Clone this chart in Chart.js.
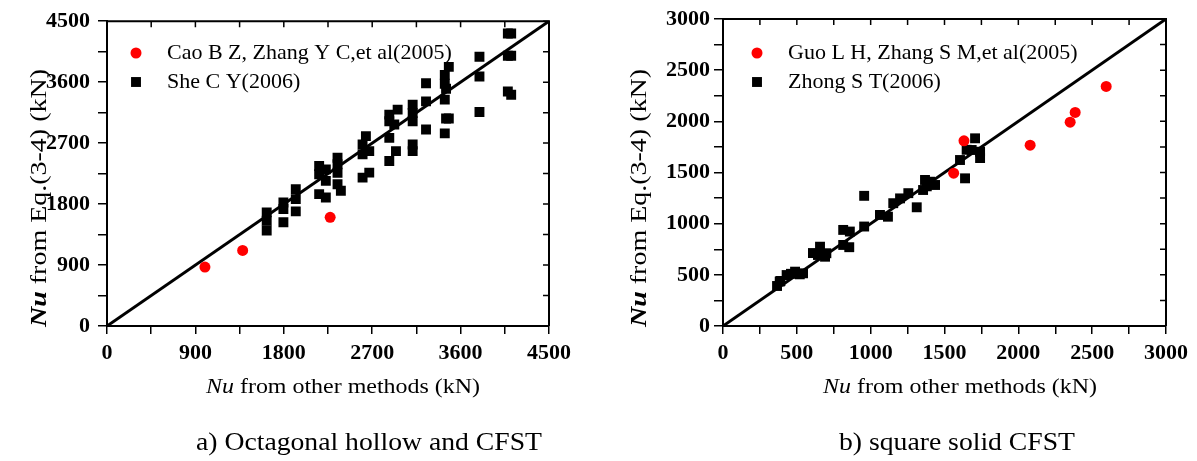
<!DOCTYPE html>
<html>
<head>
<meta charset="utf-8">
<script src="https://cdn.jsdelivr.net/npm/chart.js@4.4.0/dist/chart.umd.min.js"></script>
<style>
  html, body { margin: 0; padding: 0; background: #fff; }
  body { width: 1197px; height: 461px; position: relative; overflow: hidden; }
  canvas { position: absolute; top: 0; }
  #left { left: 0; }
  #right { left: 600px; }
</style>
</head>
<body>
<canvas id="left" width="600" height="461"></canvas>
<canvas id="right" width="597" height="461"></canvas>
<script>
// a) Octagonal hollow and CFST
const leftCaoX = [997, 1381, 2272];
const leftCaoY = [870, 1115, 1604];
const leftSheX = [1626, 1626, 1626, 1796, 1796, 1796, 1922, 1922, 1922,
  2160, 2160, 2160, 2228, 2228, 2228, 2347, 2347, 2347, 2347, 2381,
  2602, 2636, 2602, 2670, 2602, 2670, 2874, 2874, 2874, 2874, 2942, 2959, 2925,
  3112, 3112, 3112, 3112, 3112, 3248, 3248, 3248,
  3480, 3439, 3439, 3452, 3439, 3452, 3439, 3480,
  3792, 3792, 3792, 4081, 4115, 4081, 4115, 4081, 4115];
const leftSheY = [1678, 1553, 1409, 1824, 1727, 1531, 2020, 1873, 1692,
  2362, 2240, 1947, 2313, 2142, 1898, 2485, 2387, 2262, 2093, 1996,
  2680, 2803, 2534, 2582, 2191, 2264, 3120, 3023, 2778, 2436, 2582, 3194, 2974,
  3267, 3145, 3023, 2582, 2680, 3585, 3316, 2900,
  3826, 3708, 3576, 3503, 3342, 3063, 2844, 3063,
  3976, 3683, 3160, 4319, 4319, 3991, 3991, 3463, 3414];
const leftTicks = { max: 4500, step: 450, labelEvery: 900 };

// b) square solid CFST
const rightGuoX = [1562, 1632, 2080, 2351, 2385, 2595];
const rightGuoY = [1493, 1810, 1767, 1992, 2087, 2341];
const rightZhongX = [366, 384, 389, 431, 460, 488, 520, 542,
  609, 643, 657, 691, 700, 814, 859, 814, 855,
  956, 956, 1063, 1117, 1153, 1199, 1255, 1312,
  1355, 1368, 1402, 1436, 1380,
  1605, 1639, 1650, 1684, 1707, 1741, 1741];
const rightZhongY = [391, 434, 440, 498, 510, 531, 505, 515,
  713, 694, 775, 677, 711, 939, 923, 792, 770,
  972, 1272, 1085, 1068, 1200, 1247, 1298, 1160,
  1329, 1427, 1410, 1378, 1365,
  1622, 1443, 1722, 1720, 1834, 1703, 1641];
const rightTicks = { max: 3000, step: 250, labelEvery: 500 };

const SERIF = "'Liberation Serif', 'Times New Roman', serif";

function toPoints(xs, ys) {
  return xs.map((x, i) => ({ x: x, y: ys[i] }));
}

/**
 * Draws a line of text made of parts with different fonts, centred on (cx, cy).
 * If width is given the line is stretched to that width.
 */
function drawRich(ctx, parts, cx, cy, width) {
  let total = 0;
  parts.forEach(p => { ctx.font = p.font; total += ctx.measureText(p.text).width; });
  ctx.save();
  ctx.translate(cx, cy);
  if (width) ctx.scale(width / total, 1);
  let x = -total / 2;
  ctx.textAlign = 'left';
  ctx.textBaseline = 'middle';
  parts.forEach(p => {
    ctx.font = p.font;
    ctx.fillText(p.text, x, 0);
    x += ctx.measureText(p.text).width;
  });
  ctx.restore();
}

// frame, mirrored inward ticks, legend, axis titles and caption
const decor = {
  id: 'decor',
  afterDraw(chart, args, opts) {
    const { ctx, chartArea: a, scales: { x, y } } = chart;
    ctx.save();
    ctx.strokeStyle = '#000';
    ctx.fillStyle = '#000';

    ctx.lineWidth = 2;
    ctx.beginPath();
    ctx.moveTo(a.left, a.top);
    ctx.lineTo(a.right, a.top);
    ctx.lineTo(a.right, a.bottom);
    ctx.stroke();

    ctx.lineWidth = 1.5;
    ctx.beginPath();
    x.ticks.forEach(t => {
      const px = x.getPixelForValue(t.value);
      ctx.moveTo(px, a.top);
      ctx.lineTo(px, a.top + 6);
    });
    y.ticks.forEach(t => {
      const py = y.getPixelForValue(t.value);
      ctx.moveTo(a.right, py);
      ctx.lineTo(a.right - 6, py);
    });
    ctx.stroke();

    // legend
    let ly = opts.legendY;
    chart.data.datasets.filter(d => d.label).forEach(d => {
      ctx.fillStyle = d.backgroundColor;
      Chart.helpers.drawPoint(ctx, { pointStyle: d.pointStyle, radius: d.pointRadius, rotation: 0, borderWidth: 0 },
        a.left + opts.legendMarkX, ly);
      ctx.fillStyle = '#000';
      ctx.font = '22px ' + SERIF;
      ctx.textAlign = 'left';
      ctx.textBaseline = 'middle';
      ctx.fillText(d.label, a.left + opts.legendTextX, ly);
      ly += 29;
    });

    // axis titles
    ctx.fillStyle = '#000';
    drawRich(ctx, [
      { text: 'Nu', font: 'italic 22px ' + SERIF },
      { text: ' from other methods (kN)', font: '22px ' + SERIF }
    ], opts.xTitleX, opts.xTitleY, 274);

    ctx.save();
    ctx.translate(opts.yTitleX, opts.yTitleY);
    ctx.rotate(-Math.PI / 2);
    drawRich(ctx, [
      { text: 'Nu', font: 'italic bold 23px ' + SERIF },
      { text: ' from Eq.(3-4) (kN)', font: '23px ' + SERIF }
    ], 0, 0, 258);
    ctx.restore();

    drawRich(ctx, [{ text: opts.caption, font: '25px ' + SERIF }], opts.captionX, opts.captionY, opts.captionW);
    ctx.restore();
  }
};

function axis(t, fitSize, isX, pad) {
  return {
    type: 'linear',
    min: 0,
    max: t.max,
    afterFit: s => { if (isX) s.height = fitSize; else s.width = fitSize; },
    ticks: {
      stepSize: t.step,
      autoSkip: false,
      maxRotation: 0,
      color: '#000',
      padding: pad,
      font: { family: SERIF, size: 22, weight: 'bold' },
      callback: v => (v % t.labelEvery === 0 ? String(v) : '')
    },
    grid: { drawOnChartArea: false, drawTicks: true, tickLength: isX ? 8 : 9, color: '#000', lineWidth: 1.5 },
    border: { display: true, color: '#000', width: 2 }
  };
}

function makeChart(id, cfg) {
  return new Chart(document.getElementById(id), {
    type: 'scatter',
    data: {
      datasets: [
        {
          label: cfg.redLabel,
          data: toPoints(cfg.redX, cfg.redY),
          pointStyle: 'circle',
          pointRadius: 5.5,
          backgroundColor: '#ff0000',
          borderWidth: 0,
          order: 1
        },
        {
          label: cfg.blackLabel,
          data: toPoints(cfg.blackX, cfg.blackY),
          pointStyle: 'rect',
          pointRadius: 7,
          backgroundColor: '#000',
          borderWidth: 0,
          order: 2
        },
        {
          type: 'line',
          data: [{ x: 0, y: 0 }, { x: cfg.ticks.max, y: cfg.ticks.max }],
          borderColor: '#000',
          borderWidth: 3,
          pointRadius: 0,
          showLine: true,
          order: 3
        }
      ]
    },
    options: {
      responsive: false,
      animation: false,
      devicePixelRatio: 1,
      layout: { padding: { left: 0, top: cfg.top, right: cfg.padRight, bottom: 0 } },
      scales: {
        x: axis(cfg.ticks, 461 - cfg.bottom, true, 6),
        y: axis(cfg.ticks, cfg.left, false, cfg.yPad)
      },
      plugins: {
        legend: { display: false },
        tooltip: { enabled: false },
        decor: cfg.decor
      },
      elements: { line: { tension: 0 } }
    },
    plugins: [decor]
  });
}

makeChart('left', {
  redLabel: 'Cao B Z, Zhang Y C,et al(2005)',
  blackLabel: 'She C Y(2006)',
  redX: leftCaoX, redY: leftCaoY,
  blackX: leftSheX, blackY: leftSheY,
  ticks: leftTicks,
  left: 107, top: 19, bottom: 326, padRight: 51, yPad: 8,
  decor: {
    legendY: 53, legendMarkX: 29, legendTextX: 60,
    xTitleX: 343, xTitleY: 387,
    yTitleX: 40, yTitleY: 198,
    caption: 'a) Octagonal hollow and CFST', captionX: 369, captionY: 443, captionW: 346
  }
});

makeChart('right', {
  redLabel: 'Guo L H, Zhang S M,et al(2005)',
  blackLabel: 'Zhong S T(2006)',
  redX: rightGuoX, redY: rightGuoY,
  blackX: rightZhongX, blackY: rightZhongY,
  ticks: rightTicks,
  left: 123, top: 19, bottom: 326, padRight: 31, yPad: 4,
  decor: {
    legendY: 53, legendMarkX: 34, legendTextX: 65,
    xTitleX: 360, xTitleY: 387,
    yTitleX: 40, yTitleY: 198,
    caption: 'b) square solid CFST', captionX: 357, captionY: 443, captionW: 236
  }
});
</script>
</body>
</html>
